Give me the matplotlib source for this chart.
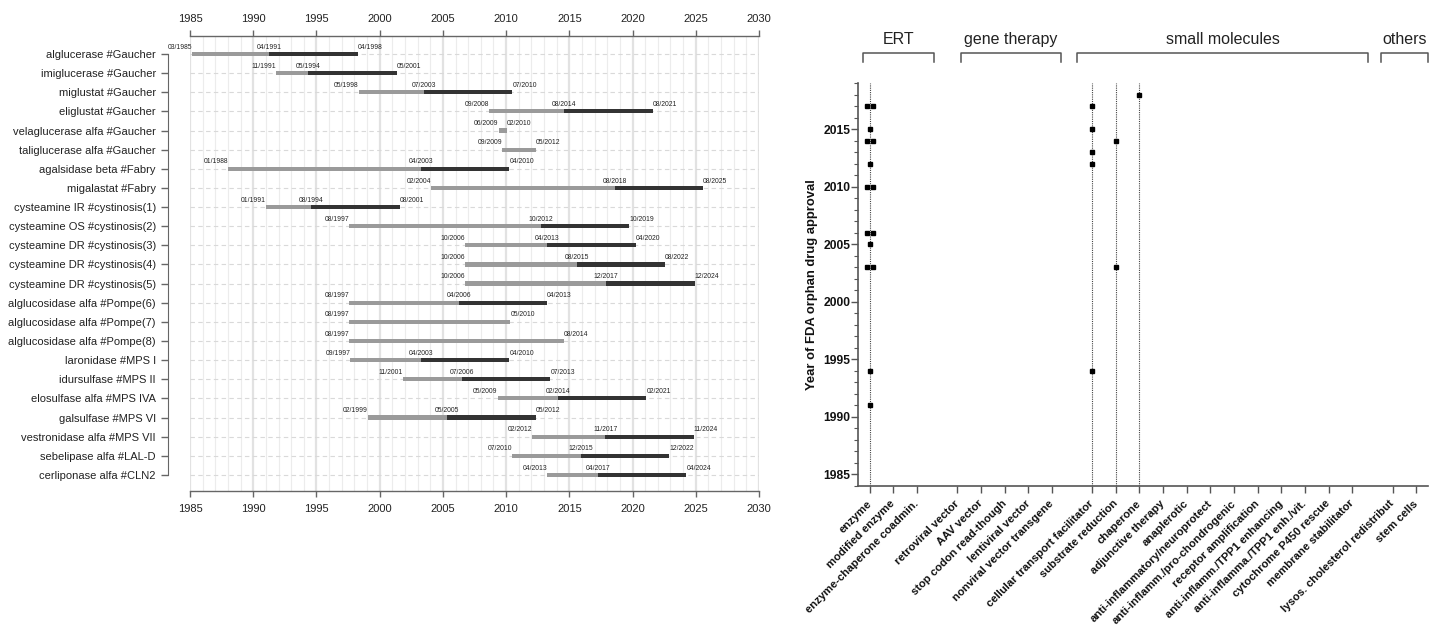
import matplotlib
matplotlib.use('Agg')
import matplotlib.pyplot as plt
import numpy as np
from matplotlib.ticker import MultipleLocator

plt.rcParams['font.family'] = ['Liberation Sans', 'DejaVu Sans']

# ---------------- data: left panel ----------------
drugs = [
    "alglucerase #Gaucher", "imiglucerase #Gaucher", "miglustat #Gaucher",
    "eliglustat #Gaucher", "velaglucerase alfa #Gaucher", "taliglucerase alfa #Gaucher",
    "agalsidase beta #Fabry", "migalastat #Fabry", "cysteamine IR #cystinosis(1)",
    "cysteamine OS #cystinosis(2)", "cysteamine DR #cystinosis(3)", "cysteamine DR #cystinosis(4)",
    "cysteamine DR #cystinosis(5)", "alglucosidase alfa #Pompe(6)", "alglucosidase alfa #Pompe(7)",
    "alglucosidase alfa #Pompe(8)", "laronidase #MPS I", "idursulfase #MPS II",
    "elosulfase alfa #MPS IVA", "galsulfase #MPS VI", "vestronidase alfa #MPS VII",
    "sebelipase alfa #LAL-D", "cerliponase alfa #CLN2",
]
start_dates = ["03/1985", "11/1991", "05/1998", "09/2008", "06/2009", "09/2009",
               "01/1988", "02/2004", "01/1991", "08/1997", "10/2006", "10/2006",
               "10/2006", "08/1997", "08/1997", "08/1997", "09/1997", "11/2001",
               "05/2009", "02/1999", "02/2012", "07/2010", "04/2013"]
mid_dates = ["04/1991", "05/1994", "07/2003", "08/2014", None, None,
             "04/2003", "08/2018", "08/1994", "10/2012", "04/2013", "08/2015",
             "12/2017", "04/2006", None, None, "04/2003", "07/2006",
             "02/2014", "05/2005", "11/2017", "12/2015", "04/2017"]
end_dates = ["04/1998", "05/2001", "07/2010", "08/2021", "02/2010", "05/2012",
             "04/2010", "08/2025", "08/2001", "10/2019", "04/2020", "08/2022",
             "12/2024", "04/2013", "05/2010", "08/2014", "04/2010", "07/2013",
             "02/2021", "05/2012", "11/2024", "12/2022", "04/2024"]
year_ticks = [1985, 1990, 1995, 2000, 2005, 2010, 2015, 2020, 2025, 2030]

# ---------------- data: right panel ----------------
groups = ["ERT", "gene therapy", "small molecules", "others"]
group_cats = [
    ["enzyme", "modified enzyme", "enzyme-chaperone coadmin."],
    ["retroviral vector", "AAV vector", "stop codon read-though", "lentiviral vector",
     "nonviral vector transgene"],
    ["cellular transport facilitator", "substrate reduction", "chaperone",
     "adjunctive therapy", "anaplerotic", "anti-inflammatory/neuroprotect",
     "anti-inflamm./pro-chondrogenic", "receptor amplification",
     "anti-inflamm./TPP1 enhancing", "anti-inflamma./TPP1 enh./vit.",
     "cytochrome P450 rescue", "membrane stabilitator"],
    ["lysos. cholesterol redistribut", "stem cells"],
]
approvals = {
    "enzyme": [1991, 1994, 2003, 2003, 2005, 2006, 2006, 2010, 2010, 2012,
               2014, 2014, 2015, 2017, 2017],
    "cellular transport facilitator": [1994, 2012, 2013, 2015, 2017],
    "substrate reduction": [2003, 2014],
    "chaperone": [2018],
}


def to_year(s):
    m, y = s.split('/')
    return int(y) + (int(m) - 1) / 12.0


LIGHT = '#9a9a9a'
DARK = '#333333'

fig = plt.figure(figsize=(14.37, 6.28), dpi=100)

# ================= left panel =================
ax = fig.add_axes([190 / 1437, 1 - 491 / 628, (759 - 190) / 1437, (491 - 36) / 628])
n = len(drugs)
ypos = np.arange(n)

# spine placement first (it resets ticks)
for side in ['top', 'bottom']:
    ax.spines[side].set_color('#666666')
    ax.spines[side].set_linewidth(1.0)
ax.spines['right'].set_visible(False)
ax.spines['left'].set_position(('outward', 16))
ax.spines['left'].set_bounds(0, n - 1)
ax.spines['left'].set_color('#666666')

ax.set_xlim(1985, 2030)
ax.set_ylim(n - 1 + 0.84, -0.94)

ax.set_xticks(year_ticks)
ax.xaxis.set_minor_locator(MultipleLocator(1))
ax.set_yticks(ypos)
ax.set_yticklabels(drugs)
ax.tick_params(axis='x', which='major', top=True, labeltop=True, bottom=True,
               labelbottom=True, direction='out', length=4, width=1.0,
               color='#666666', labelsize=8.0, labelcolor='#222222', pad=5.0)
ax.tick_params(axis='x', which='minor', length=0, top=False, bottom=False)
ax.tick_params(axis='y', direction='out', length=5, width=1.0, color='#666666',
               pad=3.5, labelsize=8.0, labelcolor='#222222')

ax.grid(which='major', axis='x', color='#e2e2e2', lw=1.6, zorder=0)
ax.grid(which='minor', axis='x', color='#ececec', lw=0.8, zorder=0)
ax.grid(which='major', axis='y', color='#d9d9d9', lw=0.8, ls=(0, (4, 3)), zorder=0)
ax.set_axisbelow(True)

bh = 0.22
lab_kw = dict(fontsize=4.9, color='#222222', va='center', zorder=4)
for i in range(n):
    s = to_year(start_dates[i])
    e = to_year(end_dates[i])
    if mid_dates[i] is not None:
        m = to_year(mid_dates[i])
        ax.barh(i, m - s, left=s, height=bh, color=LIGHT, zorder=3)
        ax.barh(i, e - m, left=m, height=bh, color=DARK, zorder=3)
        ax.text(m, i - 0.36, mid_dates[i], ha='center', **lab_kw)
    else:
        ax.barh(i, e - s, left=s, height=bh, color=LIGHT, zorder=3)
    ax.text(s, i - 0.36, start_dates[i], ha='right', **lab_kw)
    ax.text(e, i - 0.36, end_dates[i], ha='left', **lab_kw)

# ================= right panel =================
ax2 = fig.add_axes([858 / 1437, 1 - 486 / 628, (1428 - 858) / 1437, (486 - 83) / 628])
gap = 0.7
cats, pos = [], []
x = 0.0
for gi, gc in enumerate(group_cats):
    if gi > 0:
        x += gap
    for c in gc:
        cats.append(c)
        pos.append(x)
        x += 1.0
cat_pos = dict(zip(cats, pos))

for side in ['top', 'right']:
    ax2.spines[side].set_visible(False)
for side in ['left', 'bottom']:
    ax2.spines[side].set_color('#555555')
    ax2.spines[side].set_linewidth(1.2)

ax2.set_xlim(-0.5, 23.6)
ax2.set_ylim(1984, 2019)
ax2.set_xticks(pos)
ax2.set_xticklabels(cats, rotation=45, ha='right', va='center',
                    rotation_mode='anchor', fontsize=8.1, fontweight='bold',
                    color='#111111')
ax2.yaxis.set_major_locator(MultipleLocator(5))
ax2.yaxis.set_minor_locator(MultipleLocator(1))
ax2.tick_params(axis='y', which='major', direction='out', length=5, width=1.0,
                color='#555555', labelsize=8.7, labelcolor='#111111', pad=0.5)
ax2.tick_params(axis='y', which='minor', direction='out', length=3, width=0.8,
                color='#555555')
ax2.tick_params(axis='x', which='major', direction='out', length=5, width=1.0,
                color='#555555', pad=6.5)
for lab in ax2.get_yticklabels():
    lab.set_fontweight('bold')

ax2.set_ylabel("Year of FDA orphan drug approval", fontsize=9.4, fontweight='bold',
               color='#111111')
ax2.yaxis.set_label_coords(-0.070, 0.5)

for c, yrs in approvals.items():
    xc = cat_pos[c]
    ax2.axvline(xc, ls=(0, (1, 1)), color='#444444', lw=0.8, zorder=1)
    yrs = np.array(yrs)
    uniq, counts = np.unique(yrs, return_counts=True)
    ms = 2.4 if c == "enzyme" else 3.0
    for yv, cnt in zip(uniq, counts):
        offs = (np.arange(cnt) - (cnt - 1) / 2.0) * 0.24
        ax2.plot(xc + offs, [yv] * cnt, ls='none', marker='s', ms=ms,
                 color='black', zorder=3, clip_on=False)

# group brackets
tr = ax2.get_xaxis_transform()
bracket_ext = [(-0.30, 2.71), (3.86, 8.09), (8.77, 21.06), (21.61, 23.6)]
y_top, y_end, y_txt = 1.074, 1.052, 1.107
for gname, (x0, x1) in zip(groups, bracket_ext):
    ax2.plot([x0, x0, x1, x1], [y_end, y_top, y_top, y_end], color='#555555',
             lw=1.1, transform=tr, clip_on=False)
    ax2.text((x0 + x1) / 2, y_txt, gname, transform=tr, ha='center', va='center',
             fontsize=11.5, color='#222222')

fig.savefig('out.png', dpi=100, facecolor='white')
